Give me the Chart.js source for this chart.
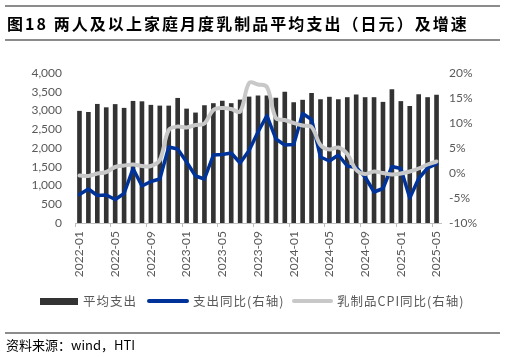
<!DOCTYPE html>
<html>
<head>
<meta charset="utf-8">
<script src="https://cdn.jsdelivr.net/npm/chart.js@4.4.1/dist/chart.umd.min.js"></script>
<style>
  html, body { margin: 0; padding: 0; background: #ffffff; }
  #wrap { position: relative; width: 506px; height: 357px; overflow: hidden; background: #fff; }
  #c { position: absolute; left: 0; top: 0; }
  .rule { position: absolute; left: 5px; width: 495px; height: 2px; background: #8c8c8c; }
  #title { position: absolute; left: 7px; top: 13px; font-family: "Noto Sans CJK SC", sans-serif; font-weight: 700; font-size: 16px; letter-spacing: 2.05px; color: #000; white-space: nowrap; line-height: 20px; }
  .lg { position: absolute; top: 292px; font-family: "Noto Sans CJK SC", sans-serif; font-size: 12.5px; letter-spacing: 1px; color: #595959; white-space: nowrap; line-height: 18px; }
  .sw { position: absolute; }
  #src { position: absolute; left: 6px; top: 336px; font-family: "Noto Sans CJK SC", sans-serif; font-size: 13px; color: #000; white-space: nowrap; line-height: 18px; }
</style>
</head>
<body>
<div id="wrap">
  <canvas id="c" width="506" height="357"></canvas>
  <div class="rule" style="top:5px;"></div>
  <div id="title">图18 两人及以上家庭月度乳制品平均支出（日元）及增速</div>
  <div class="rule" style="top:39px;"></div>

  <div class="sw" style="left:40px; top:298px; width:38px; height:7px; background:#333333;"></div>
  <div class="lg" style="left:83px;">平均支出</div>
  <div class="sw" style="left:147px; top:299px; width:42px; height:4px; border-radius:2px; background:#003399;"></div>
  <div class="lg" style="left:193px;">支出同比(右轴)</div>
  <div class="sw" style="left:292px; top:299px; width:41px; height:4px; border-radius:2px; background:#c8c8c8;"></div>
  <div class="lg" style="left:337px;">乳制品CPI同比(右轴)</div>

  <div class="rule" style="top:332px; height:2px;"></div>
  <div id="src">资料来源：wind，HTI</div>
</div>
<script>
const months = [
  "2022-01","2022-02","2022-03","2022-04","2022-05","2022-06","2022-07","2022-08","2022-09","2022-10","2022-11","2022-12",
  "2023-01","2023-02","2023-03","2023-04","2023-05","2023-06","2023-07","2023-08","2023-09","2023-10","2023-11","2023-12",
  "2024-01","2024-02","2024-03","2024-04","2024-05","2024-06","2024-07","2024-08","2024-09","2024-10","2024-11","2024-12",
  "2025-01","2025-02","2025-03","2025-04","2025-05"
];
const avgSpend = [
  2990, 2960, 3175, 3085, 3170, 3070, 3255, 3245, 3150, 3130, 3130, 3335,
  3050, 2945, 3140, 3195, 3260, 3195, 3290, 3370, 3400, 3400, 3340, 3500,
  3220, 3285, 3465, 3300, 3365, 3300, 3355, 3425, 3355, 3355, 3230, 3570,
  3250, 3120, 3435, 3355, 3420
];
const spendYoY = [
  -4.3, -3.2, -4.5, -4.4, -5.3, -4.1, 0.9, -2.6, -1.7, -1.2, 5.2, 4.8,
  2.2, -0.6, -1.2, 3.6, 3.7, 4.0, 2.0, 4.5, 8.2, 11.5, 6.8, 5.6,
  5.7, 11.9, 10.7, 3.2, 2.4, 3.6, 1.4, 1.1, -0.8, -3.8, -3.1, 1.3,
  0.9, -5.0, -1.1, 1.0, 1.8
];
const dairyCpiYoY = [
  -0.5, -0.6, -0.1, 0.2, 1.2, 1.5, 1.7, 1.4, 1.4, 2.6, 8.6, 9.3,
  9.1, 9.6, 9.9, 12.6, 13.0, 12.8, 12.3, 18.0, 17.7, 17.2, 11.0, 10.6,
  10.0, 9.5, 9.2, 5.6, 4.7, 5.1, 3.8, 0.6, -0.2, 0.3, 0.0, -0.3,
  -0.1, 0.3, 0.9, 1.7, 2.3
];
const leftTicks = [0, 500, 1000, 1500, 2000, 2500, 3000, 3500, 4000];
const rightTicks = [-10, -5, 0, 5, 10, 15, 20];

const tickFont = { family: "Lato, 'Open Sans', sans-serif", size: 12 };
const tickColor = '#595959';

new Chart(document.getElementById('c'), {
  data: {
    labels: months,
    datasets: [
      { type: 'bar', label: '平均支出', data: avgSpend, yAxisID: 'y', backgroundColor: '#333333',
        barPercentage: 0.52, categoryPercentage: 1.0, order: 3 },
      { type: 'line', label: '支出同比(右轴)', data: spendYoY, yAxisID: 'y1', borderColor: '#003399',
        borderWidth: 3.5, pointRadius: 0, tension: 0, borderJoinStyle: 'round', borderCapStyle: 'round', fill: false, order: 2 },
      { type: 'line', label: '乳制品CPI同比(右轴)', data: dairyCpiYoY, yAxisID: 'y1', borderColor: '#c8c8c8',
        borderWidth: 4, pointRadius: 0, tension: 0.35, borderJoinStyle: 'round', borderCapStyle: 'round', fill: false, order: 1 }
    ]
  },
  options: {
    responsive: false,
    animation: false,
    events: [],
    layout: { padding: { top: 73, left: 0, right: 0, bottom: 0 } },
    plugins: { legend: { display: false }, tooltip: { enabled: false }, title: { display: false } },
    scales: {
      x: {
        type: 'category',
        offset: true,
        grid: {
          display: true, offset: true, drawOnChartArea: false, drawTicks: true, tickLength: 4,
          color: (ctx) => (ctx.index % 4 === 0 ? '#bfbfbf' : 'rgba(0,0,0,0)'), lineWidth: 1
        },
        border: { display: true, color: '#bfbfbf', width: 1 },
        ticks: {
          autoSkip: false, minRotation: 90, maxRotation: 90, padding: 4,
          color: tickColor, font: tickFont,
          callback: function (v, i) { return i % 4 === 0 ? months[i] : ''; }
        },
        afterFit: (s) => { s.height = 357 - 223; }
      },
      y: {
        position: 'left',
        min: 0, max: 4000,
        afterBuildTicks: (s) => { s.ticks = leftTicks.map(v => ({ value: v })); },
        grid: { display: false, drawTicks: false },
        border: { display: false },
        ticks: {
          padding: 13, color: tickColor, font: tickFont,
          callback: (v) => v.toLocaleString('en-US')
        },
        afterFit: (s) => { s.width = 75; }
      },
      y1: {
        position: 'right',
        min: -10, max: 20,
        afterBuildTicks: (s) => { s.ticks = rightTicks.map(v => ({ value: v })); },
        grid: { display: false, drawTicks: false },
        border: { display: false },
        ticks: {
          padding: 8, color: tickColor, font: tickFont,
          callback: (v) => v + '%'
        },
        afterFit: (s) => { s.width = 65; }
      }
    }
  }
});
</script>
</body>
</html>
